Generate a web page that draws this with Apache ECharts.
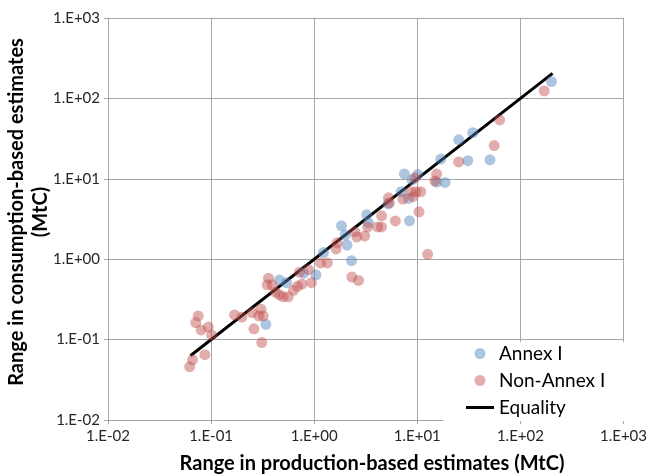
<!DOCTYPE html>
<html>
<head>
<meta charset="utf-8">
<script src="https://cdn.jsdelivr.net/npm/echarts@6/dist/echarts.min.js"></script>
<style>html,body{margin:0;padding:0;background:#fff;}#chart{width:650px;height:475px;}</style>
</head>
<body>
<div id="chart"></div>
<script>
// Tick labels (decades 1E-2 .. 1E+3)
const tickLabels = ['1.E-02', '1.E-01', '1.E+00', '1.E+01', '1.E+02', '1.E+03'];

// Annex I: production-based range (x) vs consumption-based range (y), MtC
const annexX = [0.34, 0.46, 0.54, 0.79, 1.04, 1.23, 1.84, 2.0, 2.08, 2.3, 3.23, 3.36, 8.4, 5.2, 7.0, 8.2, 7.5, 10.1, 8.9, 15.4, 18.6, 16.9, 25.2, 34.5, 30.9, 50.7, 200];
const annexY = [0.155, 0.55, 0.51, 0.67, 0.64, 1.21, 2.6, 2.0, 1.5, 0.96, 3.56, 2.83, 3.0, 4.9, 6.9, 5.7, 11.5, 11.3, 9.7, 9.1, 9.0, 17.6, 30.5, 37.5, 16.8, 17.2, 162];

// Non-Annex I
const nonAnnexX = [0.075, 0.071, 0.080, 0.094, 0.101, 0.066, 0.062, 0.087,
  0.169, 0.199, 0.25, 0.305, 0.29, 0.32, 0.26, 0.31,
  0.36, 0.35, 0.39, 0.42, 0.46, 0.50, 0.56, 0.63, 0.69, 0.76, 0.72, 0.88, 0.94,
  1.15, 1.34, 1.63, 1.67, 2.48, 2.59, 3.09, 3.3, 4.12, 4.5, 4.5, 6.12, 10.4, 12.6, 2.32, 2.69,
  5.25, 5.36, 7.25, 8.7, 9.1, 9.7, 10.8, 9.5, 14.8, 15.4, 25.2, 55.7, 63, 170];
const nonAnnexY = [0.197, 0.163, 0.132, 0.143, 0.114, 0.056, 0.046, 0.065,
  0.203, 0.19, 0.217, 0.239, 0.197, 0.197, 0.136, 0.092,
  0.58, 0.48, 0.48, 0.39, 0.36, 0.34, 0.34, 0.41, 0.46, 0.49, 0.69, 0.74, 0.51,
  0.90, 0.90, 1.34, 1.6, 2.19, 1.89, 1.95, 2.52, 2.52, 2.52, 3.46, 2.99, 3.88, 1.15, 0.60, 0.545,
  5.8, 5.0, 5.6, 6.9, 6.0, 6.9, 6.9, 10.3, 9.4, 11.5, 16.2, 25.9, 54, 124];

// Equality line (y = x)
const equalityX = [0.063, 205];
const equalityY = [0.063, 205];

const seriesNames = ['Annex I', 'Non-Annex I', 'Equality'];

function zip(a, b) { return a.map((v, i) => [v, b[i]]); }
function fmt(v) { return tickLabels[Math.round(Math.log10(v)) + 2]; }

const FONT = 'Lato, "Liberation Sans", sans-serif';
const gridColor = '#a6a6a6';

const axisCommon = {
  type: 'log', logBase: 10, min: 0.01, max: 1000, splitNumber: 5,
  axisLine: { show: true, lineStyle: { color: gridColor, width: 1 } },
  axisTick: { show: true, length: 4, lineStyle: { color: gridColor } },
  splitLine: { show: true, lineStyle: { color: gridColor, width: 1 } },
  minorTick: { show: false },
  axisLabel: { formatter: fmt, fontFamily: FONT, fontSize: 15, color: '#262626' }
};

const chart = echarts.init(document.getElementById('chart'), null, { renderer: 'canvas' });
chart.setOption({
  animation: false,
  backgroundColor: '#ffffff',
  grid: { left: 108, right: 19, top: 18, bottom: 55, containLabel: false },
  xAxis: Object.assign({}, axisCommon, { axisLabel: Object.assign({}, axisCommon.axisLabel, { margin: 9 }) }),
  yAxis: Object.assign({}, axisCommon, { axisLabel: Object.assign({}, axisCommon.axisLabel, { margin: 8 }) }),
  legend: {
    orient: 'vertical', left: 466, top: 344, padding: 0, itemGap: 8,
    itemWidth: 28, itemHeight: 11,
    textStyle: { fontFamily: FONT, fontSize: 19, color: '#000' },
    data: [
      { name: seriesNames[0], icon: 'circle' },
      { name: seriesNames[1], icon: 'circle' },
      { name: seriesNames[2], icon: 'path://M0,0L28,0L28,3L0,3Z', itemStyle: { color: '#000' } }
    ]
  },
  graphic: [
    { type: 'rect', shape: { x: 443, y: 342, width: 189, height: 79 }, style: { fill: '#ffffff' }, z: 3, silent: true },
    { type: 'text', x: 372, y: 464, style: { text: 'Range in production-based estimates (MtC)', font: 'bold 20px ' + FONT, fill: '#000', textAlign: 'center', textVerticalAlign: 'middle' } },
    { type: 'text', x: 29, y: 212, rotation: Math.PI / 2, style: { text: 'Range in consumption-based estimates\n(MtC)', font: 'bold 20px ' + FONT, fill: '#000', textAlign: 'center', textVerticalAlign: 'middle', lineHeight: 24 } }
  ],
  series: [
    {
      name: seriesNames[2], type: 'line', z: 1, data: zip(equalityX, equalityY),
      symbol: 'none', lineStyle: { color: '#000', width: 3 }, itemStyle: { color: '#000' }
    },
    {
      name: seriesNames[0], type: 'scatter', z: 2, data: zip(annexX, annexY), symbolSize: 11,
      itemStyle: { color: 'rgba(79,129,189,0.58)' }
    },
    {
      name: seriesNames[1], type: 'scatter', z: 2, data: zip(nonAnnexX, nonAnnexY), symbolSize: 11,
      itemStyle: { color: 'rgba(192,80,77,0.58)' }
    }
  ]
});
</script>
</body>
</html>
